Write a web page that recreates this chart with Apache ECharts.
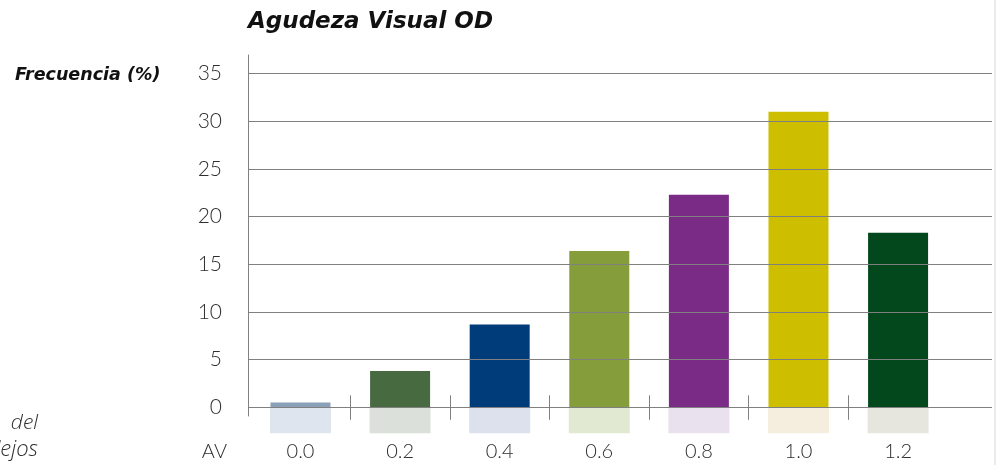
<!DOCTYPE html>
<html>
<head>
<meta charset="utf-8">
<script src="https://cdn.jsdelivr.net/npm/echarts@6/dist/echarts.min.js"></script>
<style>
  html, body { margin: 0; padding: 0; background: #ebebeb; }
  #chart { width: 994px; height: 465px; background: #ffffff; }
</style>
</head>
<body>
<div id="chart"></div>
<script>
// Visual acuity classes (right eye) and their frequency in percent
const categories = ['0.0', '0.2', '0.4', '0.6', '0.8', '1.0', '1.2'];
const frequency = [0.5, 3.8, 8.7, 16.4, 22.3, 31.0, 18.3];
const barColors = ['#8a9fb8', '#486a40', '#003b7a', '#869d3b', '#7a2b86', '#cdbf00', '#03481c'];
const tintColors = ['#dee5ee', '#dbe1da', '#dde1ee', '#e1e9d2', '#e9e2ee', '#f5eedf', '#e6e6df'];
const yTicks = [0, 5, 10, 15, 20, 25, 30, 35];

const gridColor = '#808080';
const textColor = '#2e2e2e';
const numFont = 'Lato, "Open Sans", sans-serif';
const headFont = '"DejaVu Sans", "Open Sans", sans-serif';
const noteFont = '"Open Sans", Lato, sans-serif';

// category index positions and the separators between them
const positions = categories.map((_, i) => i);
const separators = categories.slice(1).map((_, i) => i + 0.5);

// light tinted box under each bar followed by the class label
const rich = {
  t: { fontSize: 20, lineHeight: 36, color: textColor, fontFamily: numFont, fontWeight: 300 }
};
tintColors.forEach((c, i) => {
  rich['b' + i] = { width: 61, height: 26, lineHeight: 26, backgroundColor: c };
});

const chart = echarts.init(document.getElementById('chart'), null, { renderer: 'canvas' });

chart.setOption({
  animation: false,
  title: {
    text: 'Agudeza Visual OD',
    left: 243,
    top: 6,
    textStyle: { fontFamily: headFont, fontSize: 23, fontStyle: 'italic', fontWeight: 'bold', color: '#111111' }
  },
  grid: [
    { left: 248, right: 2, top: 73.7, bottom: 57.7 },
    { left: 248, width: 1, top: 55, bottom: 49 }
  ],
  xAxis: [
    {
      type: 'value', gridIndex: 0, min: -0.527, max: 6.943,
      axisLine: { show: false },
      splitLine: { show: false },
      axisTick: { show: true, length: 12.5, customValues: separators, lineStyle: { color: gridColor } },
      axisLabel: {
        show: true, margin: 0, customValues: positions, rich: rich,
        formatter: v => {
          const i = Math.round(v);
          return '{b' + i + '| }\n{t|' + categories[i] + '}';
        }
      }
    },
    {
      type: 'value', gridIndex: 0, min: -0.527, max: 6.943, position: 'bottom',
      axisLine: { show: false },
      splitLine: { show: false },
      axisTick: { show: true, inside: true, length: 12, customValues: separators, lineStyle: { color: gridColor } },
      axisLabel: { show: false }
    },
    {
      type: 'value', gridIndex: 1, show: false
    }
  ],
  yAxis: [
    {
      type: 'value', gridIndex: 0,
      min: yTicks[0], max: yTicks[yTicks.length - 1], interval: 5,
      z: 3,
      axisLine: { show: false },
      axisTick: { show: true, length: 16, lineStyle: { color: gridColor } },
      splitLine: { show: true, lineStyle: { color: gridColor, width: 1 } },
      axisLabel: { margin: 26, fontSize: 21, color: textColor, fontFamily: numFont, fontWeight: 300 }
    },
    {
      type: 'value', gridIndex: 1, min: 0, max: 1,
      axisLine: { show: true, lineStyle: { color: gridColor, width: 1 } },
      axisTick: { show: false },
      axisLabel: { show: false },
      splitLine: { show: false }
    }
  ],
  series: [
    {
      type: 'bar',
      xAxisIndex: 0,
      yAxisIndex: 0,
      barWidth: 60,
      data: frequency.map((v, i) => ({ value: [positions[i], v], itemStyle: { color: barColors[i] } }))
    }
  ],
  graphic: [
    {
      type: 'text', x: 15, y: 75,
      style: { text: 'Frecuencia (%)', font: 'italic bold 17.5px ' + headFont, fill: '#111111', textVerticalAlign: 'middle' }
    },
    {
      type: 'text', x: 227, y: 452,
      style: { text: 'AV', font: '300 20px ' + numFont, fill: textColor, textAlign: 'right', textVerticalAlign: 'middle' }
    },
    {
      type: 'text', x: 38, y: 423,
      style: { text: 'del', font: 'italic 300 21px ' + noteFont, fill: textColor, textAlign: 'right', textVerticalAlign: 'middle' }
    },
    {
      type: 'text', x: 38, y: 450,
      style: { text: 'lejos', font: 'italic 300 22px ' + noteFont, fill: textColor, textAlign: 'right', textVerticalAlign: 'middle' }
    }
  ]
});
</script>
</body>
</html>
